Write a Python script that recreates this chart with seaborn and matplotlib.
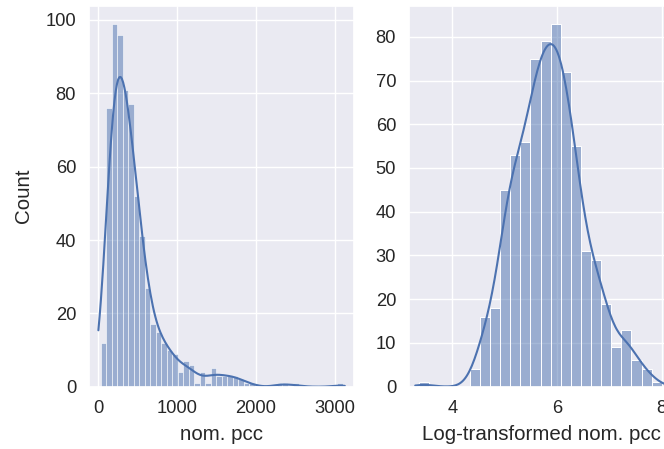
import numpy as np
import pandas as pd
import matplotlib
matplotlib.use("Agg")
import matplotlib.pyplot as plt
import seaborn as sns

# ---- data ----
# Left: histogram of nom. pcc (44 bins from 34 to 3097)
pcc_range = (34.0, 3097.0)
pcc_counts = [12, 76, 99, 96, 81, 77, 52, 41, 27, 17,
              15, 12, 10, 9, 4, 7, 6, 1, 4, 1,
              5, 3, 3, 3, 3, 2, 1, 1, 0, 0,
              0, 0, 1, 1, 0, 1, 0, 0, 0, 0,
              0, 0, 0, 1]

# Right: histogram of log-transformed nom. pcc (24 bins from 3.37 to 8.0)
log_range = (3.37, 8.0)
log_counts = [1, 0, 0, 0, 0, 4, 16, 18, 45, 53,
              56, 75, 79, 83, 72, 55, 31, 29, 19, 9,
              13, 6, 4, 1]

left_xlabel = "nom. pcc"
right_xlabel = "Log-transformed nom. pcc"
left_ylabel = "Count"
right_xticks = [4, 6, 8]


def binned(counts, rng, bw_scale=1.0):
    counts = np.asarray(counts, dtype=float)
    edges = np.linspace(rng[0], rng[1], len(counts) + 1)
    centers = (edges[:-1] + edges[1:]) / 2
    n = counts.sum()
    neff = n ** 2 / (counts ** 2).sum()
    bw_adj = (neff / n) ** 0.2 * bw_scale
    mean = (centers * counts).sum() / n
    var = ((centers - mean) ** 2 * counts).sum() / n
    bw = np.sqrt(var) * n ** (-0.2) * bw_scale
    cut = (edges[1] - edges[0]) / 2 / bw
    kws = {"bw_adjust": bw_adj, "cut": cut}
    return pd.DataFrame({"x": centers, "w": counts}), kws


sns.set_theme(style="darkgrid", font_scale=1.2)
plt.rcParams["font.family"] = ["Liberation Sans", "DejaVu Sans"]
label_size = 14.8

fig = plt.figure(figsize=(6.64, 4.49), dpi=100)
W, H = 664.0, 449.0
ax_bottom_px = 386.7
ax_top_px = 5.5
bottom = 1 - ax_bottom_px / H
height = (ax_bottom_px - ax_top_px) / H
ax1 = fig.add_axes([89.3 / W, bottom, 264.5 / W, height])
ax2 = fig.add_axes([409.3 / W, bottom, 264.5 / W, height])

df1, kws1 = binned(pcc_counts, pcc_range, 0.95)
sns.histplot(data=df1, x="x", weights="w", bins=len(pcc_counts),
             binrange=pcc_range, kde=True, kde_kws=kws1, ax=ax1)
ax1.set_xlim(-110, 3240)
ax1.set_xlabel(left_xlabel, labelpad=6, fontsize=label_size)
ax1.set_ylabel(left_ylabel, labelpad=9, fontsize=label_size)

df2, kws2 = binned(log_counts, log_range)
sns.histplot(data=df2, x="x", weights="w", bins=len(log_counts),
             binrange=log_range, kde=True, kde_kws=kws2, ax=ax2)
ax2.set_xlim(3.18, 8.23)
ax2.set_xticks(right_xticks)
ax2.set_xlabel(right_xlabel, labelpad=6, fontsize=label_size)
ax2.set_ylabel("")

fig.savefig("out.png", dpi=100)
